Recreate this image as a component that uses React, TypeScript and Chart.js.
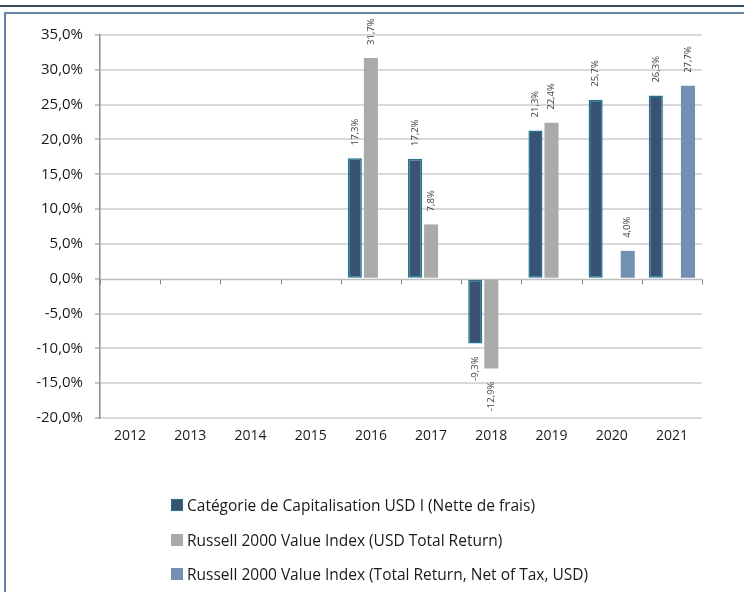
import React, { useEffect, useRef } from "react";
import { Chart, registerables } from "chart.js";

Chart.register(...registerables);

const categories = ["2012", "2013", "2014", "2015", "2016", "2017", "2018", "2019", "2020", "2021"];
const fundValues = [null, null, null, null, 17.3, 17.2, -9.3, 21.3, 25.7, 26.3];
const russellTRValues = [null, null, null, null, 31.7, 7.8, -12.9, 22.4, null, null];
const russellNetValues = [null, null, null, null, null, null, null, null, 4.0, 27.7];
const seriesLabels = [
  "Catégorie de Capitalisation USD I (Nette de frais)",
  "Russell 2000 Value Index (USD Total Return)",
  "Russell 2000 Value Index (Total Return, Net of Tax, USD)",
];
const yMin = -20;
const yMax = 35;
const yStep = 5;

const FONT = "'Open Sans', 'Noto Sans', sans-serif";
const fundFill = "#3a5273";
const fundBorder = "#137b95";
const grayFill = "#aaaaaa";
const blueFill = "#7290b4";

const fmt = (v: number) => v.toFixed(1).replace(".", ",") + "%";

const decoPlugin = {
  id: "deco",
  beforeDatasetsDraw(chart: any) {
    const { ctx, chartArea, scales } = chart;
    const x = scales.x;
    const y = scales.y;
    const y0 = Math.round(y.getPixelForValue(0)) + 0.5;
    ctx.save();
    ctx.strokeStyle = "#bdbdbd";
    ctx.lineWidth = 1.5;
    ctx.beginPath();
    ctx.moveTo(chartArea.left, y0);
    ctx.lineTo(chartArea.right, y0);
    ctx.stroke();
    const step = x.getPixelForValue(1) - x.getPixelForValue(0);
    ctx.strokeStyle = "#8c8c8c";
    ctx.lineWidth = 1;
    for (let i = 0; i <= categories.length; i++) {
      const bx = Math.round(x.getPixelForValue(i) - step / 2) + 0.5;
      ctx.beginPath();
      ctx.moveTo(bx, y0);
      ctx.lineTo(bx, y0 + 5);
      ctx.stroke();
    }
    ctx.restore();
  },
  afterDatasetsDraw(chart: any) {
    const { ctx } = chart;
    ctx.save();
    ctx.font = `9.5px ${FONT}`;
    ctx.fillStyle = "#404040";
    ctx.textBaseline = "middle";
    chart.data.datasets.forEach((ds: any, di: number) => {
      const meta = chart.getDatasetMeta(di);
      meta.data.forEach((el: any, i: number) => {
        const v = ds.data[i];
        if (v === null || v === undefined) return;
        const props = el.getProps(["x", "y", "base"], true);
        ctx.save();
        if (v >= 0) {
          ctx.translate(props.x, props.y - 13);
          ctx.rotate(-Math.PI / 2);
          ctx.textAlign = "left";
        } else {
          ctx.translate(props.x, props.y + 13);
          ctx.rotate(-Math.PI / 2);
          ctx.textAlign = "right";
        }
        ctx.fillText(fmt(v), 0, 0);
        ctx.restore();
      });
    });
    ctx.restore();
  },
};

export default function App() {
  const ref = useRef<HTMLCanvasElement | null>(null);

  useEffect(() => {
    if (!ref.current) return;
    const chart = new Chart(ref.current, {
      type: "bar",
      data: {
        labels: categories,
        datasets: [
          {
            label: seriesLabels[0],
            data: fundValues,
            backgroundColor: fundFill,
            borderColor: fundBorder,
            borderWidth: 1.5,
            borderSkipped: false,
          },
          {
            label: seriesLabels[1],
            data: russellTRValues,
            backgroundColor: grayFill,
            borderWidth: 0,
          },
          {
            label: seriesLabels[2],
            data: russellNetValues,
            backgroundColor: blueFill,
            borderWidth: 0,
          },
        ] as any,
      },
      options: {
        animation: false,
        responsive: false,
        maintainAspectRatio: false,
        layout: { padding: { left: 0, top: 35, right: 42, bottom: 0 } },
        datasets: { bar: { categoryPercentage: 0.8, barPercentage: 0.875 } },
        plugins: {
          legend: { display: false },
          tooltip: { enabled: false },
        },
        scales: {
          x: {
            grid: { display: false, drawTicks: false },
            border: { display: false },
            ticks: {
              color: "#1a1a1a",
              font: { family: FONT, size: 14 },
              padding: 10,
              maxRotation: 0,
            },
            afterFit: (s: any) => {
              s.height = 470 - 418;
            },
          },
          y: {
            min: yMin,
            max: yMax,
            ticks: {
              stepSize: yStep,
              color: "#1a1a1a",
              font: { family: FONT, size: 15 },
              padding: 12,
              callback: (v: any) => fmt(Number(v)),
            },
            grid: {
              color: (c: any) => (c.tick && c.tick.value === 0 ? "rgba(0,0,0,0)" : "#d9d9d9"),
              lineWidth: 2,
              tickColor: "#8c8c8c",
              tickLength: 5,
              tickWidth: 1,
            },
            border: { display: true, color: "#8c8c8c", width: 1.5 },
            afterFit: (s: any) => {
              s.width = 100;
            },
          },
        },
      },
      plugins: [decoPlugin],
    });
    return () => chart.destroy();
  }, []);

  const legendColors = [fundFill, grayFill, blueFill];
  const legendBorders = [fundBorder, grayFill, blueFill];
  const rowTops = [505, 540, 574];

  return (
    <div style={{ position: "fixed", left: 0, top: 0, width: 744, height: 592, background: "#fff", overflow: "hidden" }}>
      <canvas ref={ref} width={744} height={470} style={{ position: "absolute", left: 0, top: 0, width: 744, height: 470 }} />
      <div style={{ position: "absolute", left: 0, top: 5, width: 744, height: 2, background: "#2d4a6d" }} />
      <div
        style={{
          position: "absolute",
          left: 4,
          top: 12,
          width: 740,
          height: 580,
          borderLeft: "2px solid #6286ae",
          borderTop: "2px solid #6286ae",
          boxSizing: "border-box",
          pointerEvents: "none",
        }}
      />
      {seriesLabels.map((lab, i) => (
        <div
          key={lab}
          style={{
            position: "absolute",
            left: 171,
            top: rowTops[i] - 10,
            height: 20,
            display: "flex",
            alignItems: "center",
            fontFamily: FONT,
            fontSize: 15.5,
            color: "#1a1a1a",
            whiteSpace: "nowrap",
          }}
        >
          <span
            style={{
              display: "inline-block",
              width: 12,
              height: 12,
              boxSizing: "border-box",
              background: legendColors[i],
              border: `1.5px solid ${legendBorders[i]}`,
              marginRight: 4,
            }}
          />
          <span>{lab}</span>
        </div>
      ))}
    </div>
  );
}
